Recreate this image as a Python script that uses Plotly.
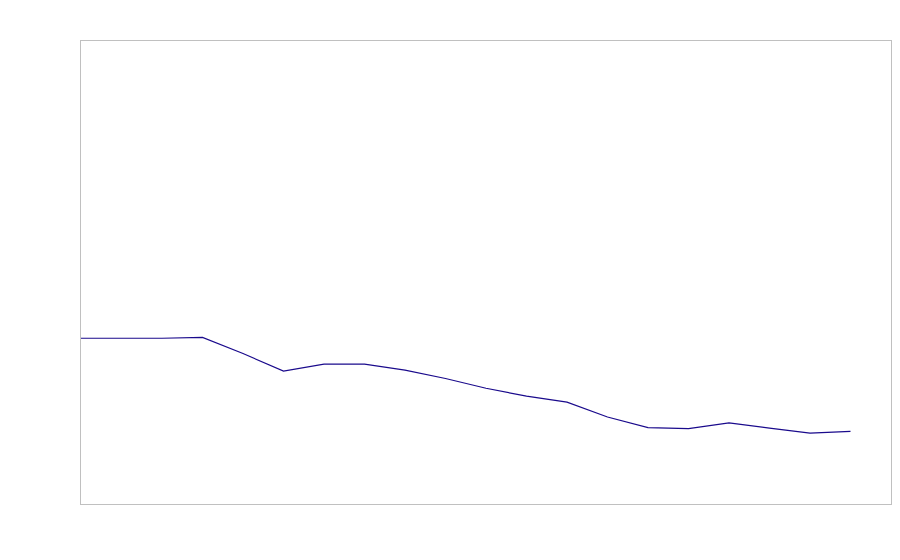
import plotly.graph_objects as go

periods = list(range(20))
values = [35.8, 35.8, 35.8, 36.0, 32.5, 28.7, 30.2, 30.2, 28.9, 27.1,
          25.0, 23.3, 22.0, 18.8, 16.5, 16.3, 17.5, 16.4, 15.3, 15.7]

fig = go.Figure()
fig.add_trace(go.Scatter(
    x=periods, y=values, mode="lines",
    line=dict(color="#1a0a8c", width=1.2),
    hoverinfo="skip", showlegend=False,
))

axis_common = dict(
    showgrid=False, zeroline=False, showticklabels=False, ticks="",
    showline=True, linecolor="#c0c0c0", linewidth=1, mirror=True,
)
fig.update_xaxes(range=[0, 20], **axis_common)
fig.update_yaxes(range=[0, 100], **axis_common)

fig.update_layout(
    width=892, height=530,
    margin=dict(l=73, r=9, t=33, b=34),
    paper_bgcolor="white", plot_bgcolor="white",
)

fig.write_html("out.html")
